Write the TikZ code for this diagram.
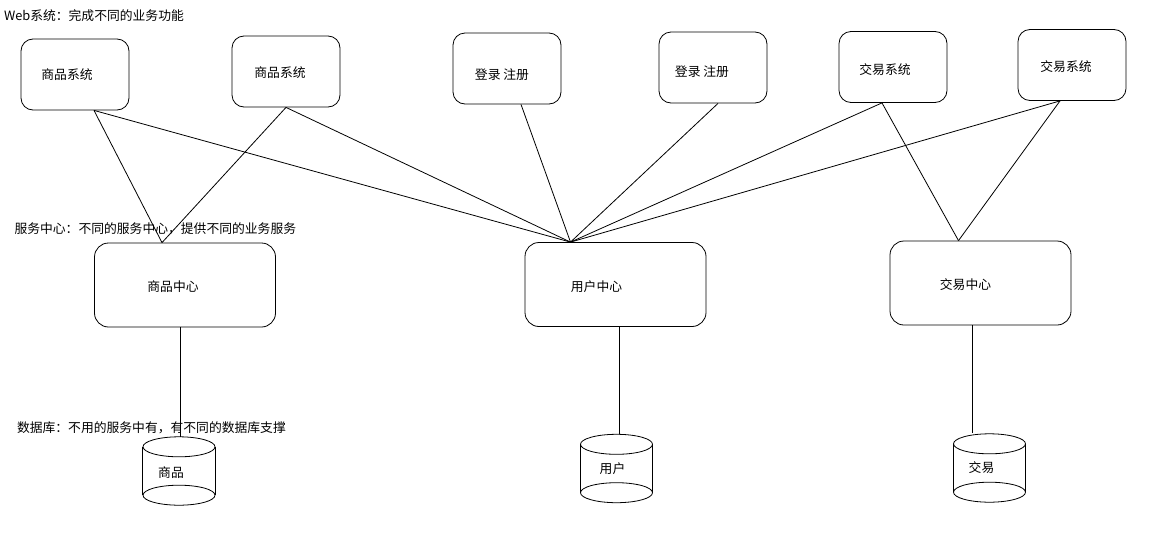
\documentclass[tikz,border=0pt]{standalone}
\usepackage{fontspec}
\newfontfamily\cjk{Noto Sans CJK SC}

\begin{document}
\begin{tikzpicture}[x=1pt, y=-1pt, font=\cjk\fontsize{12.8}{15}\selectfont]
\useasboundingbox (0,0) rectangle (1149,541);
\begin{scope}
	\tikzstyle{every node}=[align=center]
	\tikzstyle{sysbox}=[draw, rounded corners=12pt, line width=0.8pt, minimum width=108pt, minimum height=71pt]
	\tikzstyle{centerbox}=[draw, rounded corners=14pt, line width=0.8pt, minimum width=181pt, minimum height=84pt]
	\tikzstyle{dbbox}=[minimum width=72pt, minimum height=68pt]
	\tikzstyle{link}=[line width=0.8pt]

	% captions
	\node[anchor=west] (webtxt) at (0.5,16) {Web系统：完成不同的业务功能};
	\node[anchor=west] (srvtxt) at (11,229) {服务中心：不同的服务中心，提供不同的业务服务};
	\node[anchor=west] (dbtxt) at (13.5,428) {数据库：不用的服务中有，有不同的数据库支撑};

	% web systems
	\node[sysbox, label={[xshift=-8pt]center:商品系统}] (s1) at (75,74.5) {};
	\node[sysbox, label={[xshift=-6pt, yshift=-1pt]center:商品系统}] (s2) at (286,71.5) {};
	\node[sysbox, label={[xshift=-5pt, yshift=-6pt]center:登录\ 注册}] (s3) at (507,68.5) {};
	\node[sysbox, label={[xshift=-11pt, yshift=-4pt]center:登录\ 注册}] (s4) at (713,67.5) {};
	\node[sysbox, label={[xshift=-8pt, yshift=-3pt]center:交易系统}] (s5) at (893,67) {};
	\node[sysbox, label={[xshift=-6pt, yshift=-2pt]center:交易系统}] (s6) at (1072,65) {};

	% service centers
	\node[centerbox, label={[xshift=-12pt, yshift=-2pt]center:商品中心}] (c1) at (185,285) {};
	\node[centerbox, label={[xshift=-19pt, yshift=-2pt]center:用户中心}] (c2) at (615.5,284.5) {};
	\node[centerbox, label={[xshift=-15pt, yshift=-2pt]center:交易中心}] (c3) at (980.5,283) {};

	% databases
	\node[dbbox, label={[xshift=-8pt, yshift=-2pt]center:商品}] (d1) at (179,471) {};
	\node[dbbox, label={[xshift=-4pt]center:用户}] (d2) at (616.5,468.5) {};
	\node[dbbox, label={[xshift=-8pt]center:交易}] (d3) at (989.5,468) {};

	\foreach \d in {d1,d2,d3} {
		\draw[link] ([yshift=-10pt]\d.north) ellipse (36 and 10);
		\draw[link] ([yshift=10pt]\d.south) ellipse (36 and 10);
		\draw[link] ([yshift=-10pt]\d.north west) -- ([yshift=10pt]\d.south west);
		\draw[link] ([yshift=-10pt]\d.north east) -- ([yshift=10pt]\d.south east);
	}

	% attach points
	\coordinate (s1b) at ([xshift=19pt]s1.south);
	\coordinate (s3b) at ([xshift=14pt]s3.south);
	\coordinate (s4b) at ([xshift=5pt]s4.south);
	\coordinate (s5b) at ([xshift=-11pt]s5.south);
	\coordinate (s6b) at ([xshift=-12pt]s6.south);
	\coordinate (c1t) at ([xshift=-23pt]c1.north);
	\coordinate (c2t) at ([xshift=-45pt]c2.north);
	\coordinate (c3t) at ([xshift=-22pt]c3.north);

	\draw[link] (s1b) -- (c1t);
	\draw[link] (s1b) -- (c2t);
	\draw[link] (s2.south) -- (c1t);
	\draw[link] (s2.south) -- (c2t);
	\draw[link] (s3b) -- (c2t);
	\draw[link] (s4b) -- (c2t);
	\draw[link] (s5b) -- (c2t);
	\draw[link] (s5b) -- (c3t);
	\draw[link] (s6b) -- (c2t);
	\draw[link] (s6b) -- (c3t);

	\draw[link] ([xshift=1pt]c1.south -| d1.north) -- ([xshift=1pt]d1.north);
	\draw[link] ([xshift=3pt]c2.south -| d2.north) -- ([xshift=3pt]d2.north);
	\draw[link] ([xshift=-17pt]c3.south -| d3.north) -- ([xshift=-17pt, yshift=1pt]d3.north);
\end{scope}
\end{tikzpicture}
\end{document}
